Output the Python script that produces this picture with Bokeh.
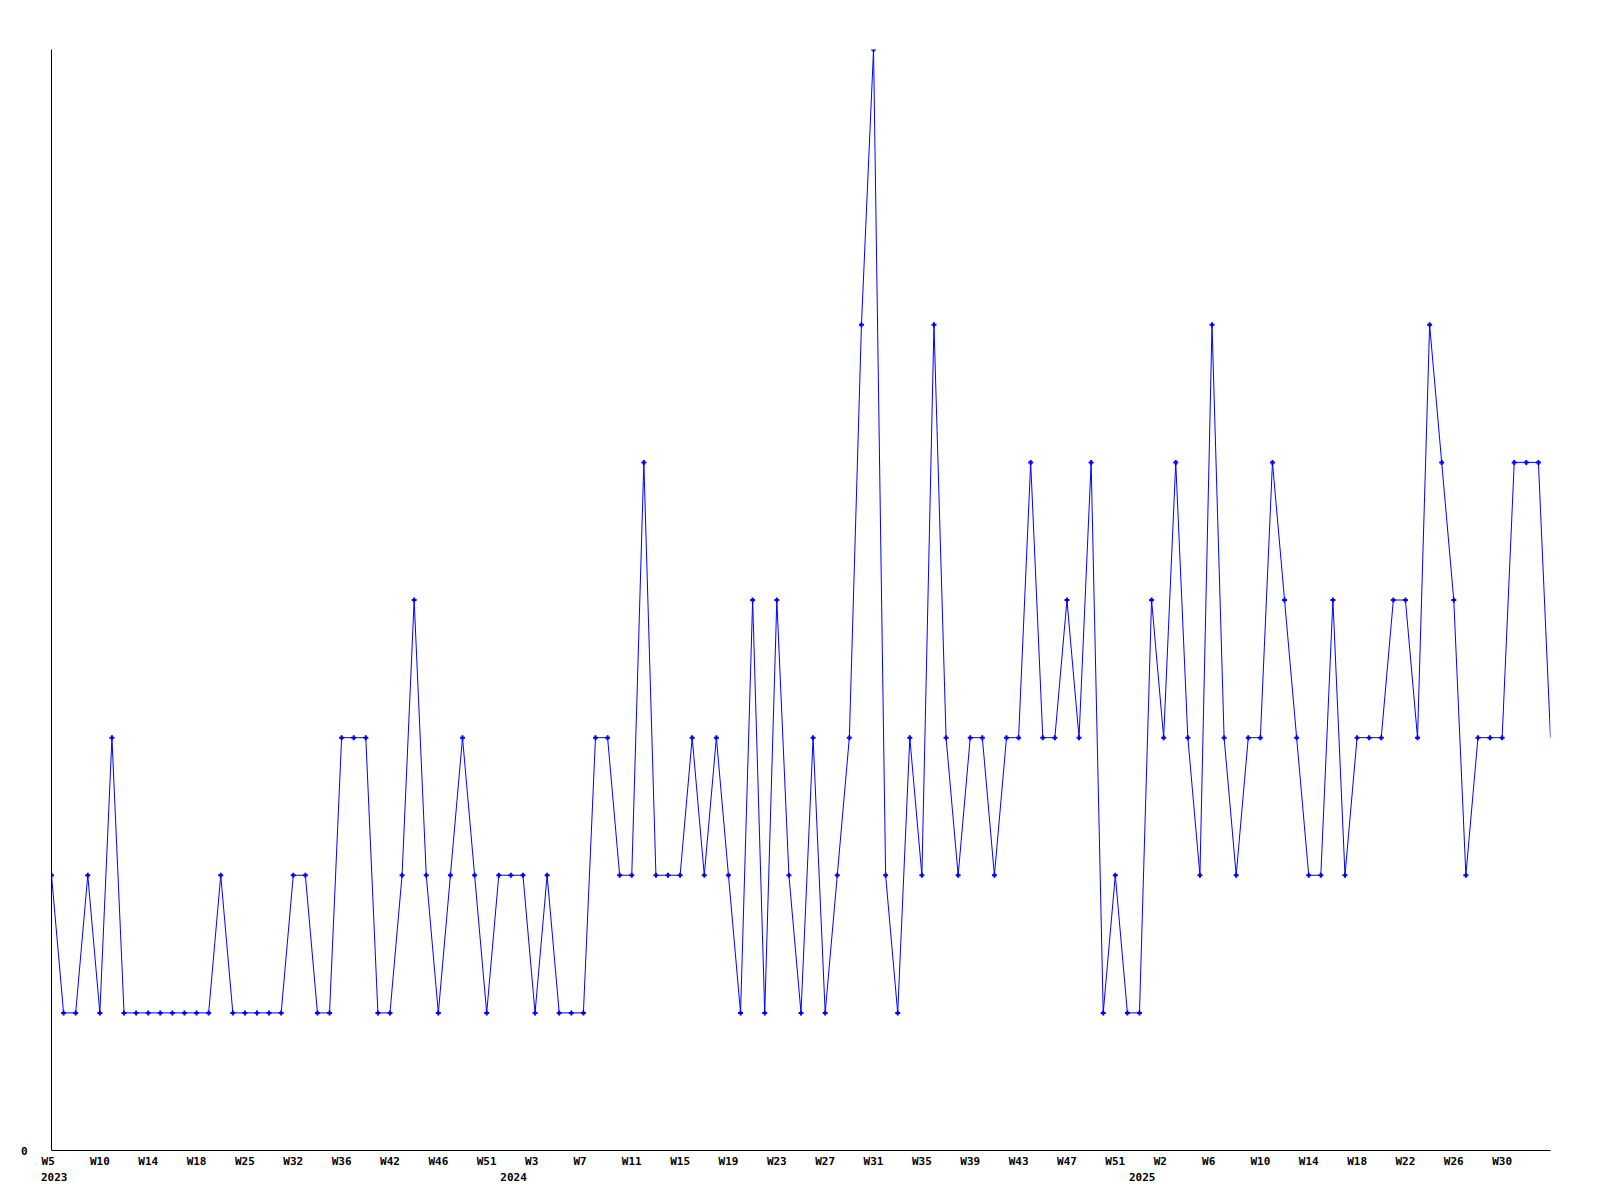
from bokeh.plotting import figure
from bokeh.models import Range1d, FixedTicker, CustomJSTickFormatter, LinearAxis
from bokeh.embed import file_html
from bokeh.resources import INLINE

# weekly counts, one per data point (chronological)
values = [2, 1, 1, 2, 1, 3, 1, 1, 1, 1,
          1, 1, 1, 1, 2, 1, 1, 1, 1, 1,
          2, 2, 1, 1, 3, 3, 3, 1, 1, 2,
          4, 2, 1, 2, 3, 2, 1, 2, 2, 2,
          1, 2, 1, 1, 1, 3, 3, 2, 2, 5,
          2, 2, 2, 3, 2, 3, 2, 1, 4, 1,
          4, 2, 1, 3, 1, 2, 3, 6, 8, 2,
          1, 3, 2, 6, 3, 2, 3, 3, 2, 3,
          3, 5, 3, 3, 4, 3, 5, 1, 2, 1,
          1, 4, 3, 5, 3, 2, 6, 3, 2, 3,
          3, 5, 4, 3, 2, 2, 4, 2, 3, 3,
          3, 4, 4, 3, 6, 5, 4, 2, 3, 3,
          3, 5, 5, 5, 3]

# labels shown on every 4th point
week_labels = ["W5", "W10", "W14", "W18", "W25", "W32", "W36", "W42", "W46", "W51",
               "W3", "W7", "W11", "W15", "W19", "W23", "W27", "W31", "W35", "W39",
               "W43", "W47", "W51", "W2", "W6", "W10", "W14", "W18", "W22", "W26", "W30"]
label_step = 4

years = ["2023", "2024", "2025"]
year_index = [0, 38, 90]

y_ticks = [0]

x = list(range(len(values)))

FONT = "DejaVu Sans Mono"
BLUE = "#0000ff"

p = figure(width=1600, height=1192, output_backend="svg", toolbar_location=None,
           x_range=Range1d(0, len(values) - 1), y_range=Range1d(0, 8),
           min_border_left=51, min_border_right=50, min_border_top=49, min_border_bottom=42)
p.outline_line_color = None
p.xgrid.visible = False
p.ygrid.visible = False
p.background_fill_color = "white"
p.border_fill_color = "white"

p.line(x, values, line_color=BLUE, line_width=1)
p.scatter(x[:-1], values[:-1], marker="cross", size=5, line_width=2, color=BLUE)

# week axis
padded = [s + "\u00a0" * (3 - len(s)) for s in week_labels]
xa = p.xaxis[0]
xa.ticker = FixedTicker(ticks=[label_step * k for k in range(len(week_labels))])
xa.formatter = CustomJSTickFormatter(args=dict(labs=padded, step=label_step),
                                     code="const k = Math.round(tick / step); return labs[k] ?? '';")
xa.major_tick_line_color = None
xa.minor_tick_line_color = None
xa.major_tick_out = 0
xa.major_tick_in = 0
xa.major_label_standoff = 4
xa.axis_line_color = "black"
xa.major_label_text_font = FONT
xa.major_label_text_font_style = "bold"
xa.major_label_text_font_size = "11px"
xa.major_label_text_color = "black"

# year axis
ya2 = LinearAxis(ticker=FixedTicker(ticks=[i + 0.22 for i in year_index]),
                 formatter=CustomJSTickFormatter(
                     args=dict(pos=[i + 0.22 for i in year_index], labs=years),
                     code="const k = pos.findIndex(v => Math.abs(v - tick) < 1e-6); return k >= 0 ? labs[k] : '';"))
ya2.axis_line_color = None
ya2.major_tick_line_color = None
ya2.minor_tick_line_color = None
ya2.major_tick_out = 0
ya2.major_tick_in = 0
ya2.major_label_standoff = 2
ya2.major_label_text_font = FONT
ya2.major_label_text_font_style = "bold"
ya2.major_label_text_font_size = "11px"
ya2.major_label_text_color = "black"
p.add_layout(ya2, "below")

# y axis
ya = p.yaxis[0]
ya.ticker = FixedTicker(ticks=y_ticks)
ya.major_tick_line_color = None
ya.minor_tick_line_color = None
ya.major_tick_out = 0
ya.major_tick_in = 0
ya.major_label_standoff = 24
ya.axis_line_color = "black"
ya.major_label_text_font = FONT
ya.major_label_text_font_style = "bold"
ya.major_label_text_font_size = "11px"
ya.major_label_text_color = "black"

open("out.html", "w").write(file_html(p, INLINE))
